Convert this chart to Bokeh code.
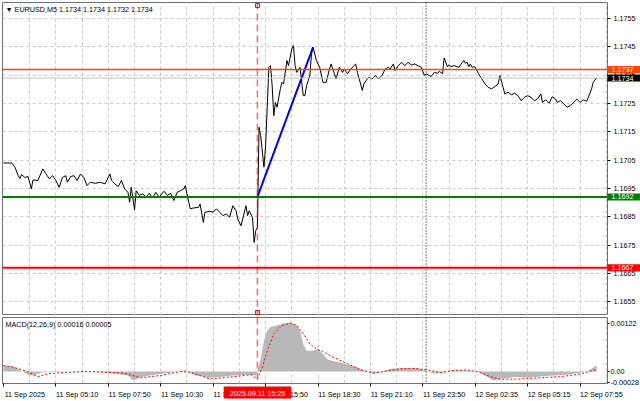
from bokeh.plotting import figure
from bokeh.models import Range1d, FixedTicker, Span, Label, Grid, PrintfTickFormatter
from bokeh.layouts import column
from bokeh.embed import file_html
from bokeh.resources import INLINE

# ---------------- data ----------------
symbol_title = "EURUSD,M5"
ohlc_last = [1.1734, 1.1734, 1.1732, 1.1734]

# (bar index of M5 bar since 11 Sep 02:30, close price)
price_points = [
    (0, 1.17040), (5, 1.17040), (7, 1.17025), (9, 1.16995), (10, 1.16985), (11, 1.16999),
    (13, 1.16989), (15, 1.16992), (17, 1.16948), (18, 1.16980), (21, 1.16978), (24, 1.17019),
    (26, 1.17001), (28, 1.16984), (30, 1.16995), (32, 1.16978), (34, 1.16954), (36, 1.16989),
    (38, 1.16995), (39, 1.16972), (41, 1.16992), (43, 1.16995), (45, 1.16978), (47, 1.17001),
    (49, 1.16989), (51, 1.16960), (53, 1.16972), (56, 1.16968), (59, 1.16972), (62, 1.16966),
    (65, 1.17001), (66, 1.16978), (68, 1.16966), (70, 1.16956), (72, 1.16978), (74, 1.16948),
    (76, 1.16936), (77, 1.16901), (78, 1.16954), (80, 1.16874), (81, 1.16942), (83, 1.16925),
    (85, 1.16931), (87, 1.16919), (89, 1.16933), (91, 1.16916), (93, 1.16936), (95, 1.16919),
    (98, 1.16940), (100, 1.16925), (102, 1.16933), (104, 1.16907), (106, 1.16936), (108, 1.16942),
    (110, 1.16948), (111, 1.16960), (112, 1.16931), (114, 1.16878), (116, 1.16881), (119, 1.16883),
    (120, 1.16895), (122, 1.16830), (123, 1.16866), (126, 1.16869), (128, 1.16866), (130, 1.16878),
    (132, 1.16866), (134, 1.16854), (136, 1.16860), (138, 1.16848), (140, 1.16889), (142, 1.16871),
    (143, 1.16842), (145, 1.16818), (148, 1.16889), (149, 1.16854), (150, 1.16871), (152, 1.16848),
    (153, 1.16759), (154, 1.16801), (155, 1.16812), (156, 1.17166), (157, 1.17137), (159, 1.17025),
    (160, 1.17101), (162, 1.17378), (163, 1.17384), (164, 1.17313), (165, 1.17207), (166, 1.17254),
    (167, 1.17237), (169, 1.17302), (170, 1.17325), (171, 1.17319), (173, 1.17402), (174, 1.17384),
    (176, 1.17443), (177, 1.17455), (178, 1.17384), (179, 1.17360), (181, 1.17378), (183, 1.17278),
    (184, 1.17278), (185, 1.17313), (187, 1.17349), (188, 1.17425), (189, 1.17449), (191, 1.17402),
    (193, 1.17378), (195, 1.17325), (197, 1.17325), (199, 1.17372), (200, 1.17390), (202, 1.17355),
    (203, 1.17337), (205, 1.17378), (207, 1.17360), (208, 1.17372), (210, 1.17355), (212, 1.17372),
    (215, 1.17390), (216, 1.17360), (218, 1.17319), (219, 1.17296), (220, 1.17319), (222, 1.17337),
    (223, 1.17343), (225, 1.17337), (227, 1.17349), (229, 1.17337), (231, 1.17349), (233, 1.17372),
    (235, 1.17378), (236, 1.17372), (238, 1.17390), (239, 1.17366), (241, 1.17384), (243, 1.17396),
    (245, 1.17384), (247, 1.17396), (249, 1.17386), (251, 1.17390), (253, 1.17384), (255, 1.17378),
    (257, 1.17349), (258, 1.17355), (260, 1.17349), (261, 1.17345), (263, 1.17360), (265, 1.17357),
    (266, 1.17364), (268, 1.17355), (269, 1.17411), (271, 1.17380), (272, 1.17387), (273, 1.17380),
    (275, 1.17384), (277, 1.17380), (278, 1.17378), (279, 1.17387), (281, 1.17402), (282, 1.17392),
    (283, 1.17396), (284, 1.17380), (285, 1.17390), (286, 1.17378), (287, 1.17380), (288, 1.17378),
    (290, 1.17355), (292, 1.17337), (294, 1.17319), (296, 1.17307), (298, 1.17302), (300, 1.17310),
    (302, 1.17319), (303, 1.17349), (305, 1.17307), (306, 1.17284), (308, 1.17290), (310, 1.17281),
    (312, 1.17286), (314, 1.17278), (316, 1.17260), (318, 1.17272), (320, 1.17278), (322, 1.17272),
    (324, 1.17260), (326, 1.17266), (328, 1.17284), (329, 1.17254), (331, 1.17263), (333, 1.17251),
    (335, 1.17274), (337, 1.17266), (338, 1.17254), (340, 1.17260), (342, 1.17249), (344, 1.17237),
    (346, 1.17243), (348, 1.17254), (350, 1.17266), (352, 1.17254), (354, 1.17263), (356, 1.17258),
    (357, 1.17272), (359, 1.17302), (360, 1.17325), (362, 1.17340),
]
price_bar = [b for b, _ in price_points]
price_close = [v for _, v in price_points]

# MACD main (histogram) and signal line
macd_points = [
    (0, 0.00015), (6, 0.00013), (10, 0.00004), (15, -0.00008), (18, -0.00010), (24, -0.00002),
    (31, -0.00002), (39, 0.0), (49, 0.00001), (59, -0.00002), (67, -0.00005), (76, -0.00010),
    (79, -0.00023), (84, -0.00014), (92, -0.00008), (100, -0.00004), (108, 0.0), (111, 0.00004),
    (116, -0.00008), (125, -0.00016), (132, -0.00014), (140, -0.00010), (149, -0.00008),
    (154, -0.00010), (155, 0.00003), (157, 0.00032), (159, 0.00079), (161, 0.00104), (163, 0.00113),
    (167, 0.00117), (172, 0.00123), (176, 0.00124), (179, 0.00117), (181, 0.00104), (183, 0.00070),
    (185, 0.00053), (189, 0.00053), (192, 0.00058), (194, 0.00049), (198, 0.00030), (204, 0.00024),
    (210, 0.00018), (216, 0.00011), (220, 0.00003), (226, -0.00006), (232, 0.00001), (236, 0.00007),
    (244, 0.00008), (253, 0.00008), (257, 0.00004), (263, -0.00006), (269, -0.00002), (275, 0.00003),
    (283, 0.00003), (289, 0.0), (295, -0.00013), (299, -0.00023), (303, -0.00019), (312, -0.00014),
    (320, -0.00016), (328, -0.00013), (336, -0.00010), (344, -0.00008), (352, -0.00004), (356, 0.0),
    (359, 0.00007), (362, 0.00016),
]
macd_bar = [b for b, _ in macd_points]
macd_main = [v for _, v in macd_points]

signal_points = [
    (0, 0.00015), (6, 0.00011), (14, 0.00001), (21, -0.00013), (27, -0.00006), (39, -0.00002),
    (51, 0.0), (63, -0.00002), (73, -0.00004), (84, -0.00016), (96, -0.00010), (108, 0.0),
    (114, -0.00002), (126, -0.00019), (141, -0.00013), (151, -0.00008), (155, -0.00019),
    (158, 0.00011), (161, 0.00053), (165, 0.00096), (170, 0.00117), (175, 0.00123), (179, 0.00117),
    (183, 0.00096), (187, 0.00070), (192, 0.00055), (194, 0.00053), (202, 0.00035), (210, 0.00020),
    (218, 0.00004), (226, -0.00004), (234, 0.00001), (242, 0.00007), (250, 0.00008), (259, 0.00004),
    (267, -0.00003), (275, 0.00003), (283, 0.00004), (291, -0.00002), (297, -0.00013),
    (303, -0.00020), (316, -0.00019), (328, -0.00016), (340, -0.00013), (350, -0.00008),
    (356, -0.00002), (362, 0.00005),
]
signal_bar = [b for b, _ in signal_points]
macd_signal = [v for _, v in signal_points]
macd_title = "MACD(12,26,9)"
macd_last = [0.00016, 0.00005]

# time axis
tick_bars = [0, 32, 64, 96, 128, 160, 192, 224, 256, 288, 320, 352]
tick_labels = ["11 Sep 2025", "11 Sep 05:10", "11 Sep 07:50", "11 Sep 10:30", "11 Sep 13:10",
               "11 Sep 15:50", "11 Sep 18:30", "11 Sep 21:10", "11 Sep 23:50", "12 Sep 02:35",
               "12 Sep 05:15", "12 Sep 07:55"]
grid_bars = list(range(16, 369, 16))
day_sep_bar = 258
event_bar = 155
event_label = "2025.09.11 15:25"

# price axis
price_ticks = [1.1655, 1.1665, 1.1675, 1.1685, 1.1695, 1.1705, 1.1715, 1.1725, 1.1735, 1.1745, 1.1755]
macd_ticks = [-0.00028, 0.0, 0.00122]
macd_tick_labels = ["-0.00028", "0.00", "0.00122"]

# horizontal levels
level_values = [1.1737, 1.1734, 1.1692, 1.1667]
level_colors = ["#FF4500", "#C0C0C0", "#008000", "#FF0000"]
level_box_colors = ["#FF4500", "#000000", "#008000", "#FF0000"]
level_widths = [1.5, 1, 2, 2]

# trend line drawn on the chart
trend_bar = [155, 189]
trend_price = [1.1692, 1.17449]

# ---------------- layout / style ----------------
FONT = "Liberation Sans"
FS = "7.2px"
FRAME_W = 605
MAIN_H = 313
MACD_H = 66
LEFT = 2
RIGHT = 33
GRID_COLOR = "#C8C8C8"
GRID_DASH = "3 3"
LABEL_SHIFT = 13
DATE_BOX_PX = 9    # distance of the date box centre below the MACD frame
SQUARE_PX = 3      # inset of the event-line end markers

X_START, X_END = -0.6, 368.7
Y_MAIN = (1.16501, 1.17607)
Y_MACD = (-0.000305, 0.001373)

x_range = Range1d(X_START, X_END)

p = figure(frame_width=FRAME_W, frame_height=MAIN_H, x_range=x_range,
           y_range=Range1d(*Y_MAIN), x_axis_location=None, y_axis_location="right",
           toolbar_location=None, output_backend="svg",
           min_border_left=LEFT, min_border_right=RIGHT, min_border_top=2, min_border_bottom=0)
p.background_fill_color = "white"
p.border_fill_color = "white"
p.outline_line_color = "#707070"
p.outline_line_width = 1

p.xgrid.visible = False
p.add_layout(Grid(dimension=0, ticker=FixedTicker(ticks=grid_bars),
                  grid_line_color=GRID_COLOR, grid_line_dash=GRID_DASH))
p.yaxis.ticker = FixedTicker(ticks=price_ticks)
p.yaxis.formatter = PrintfTickFormatter(format="%.4f")
p.ygrid.grid_line_color = GRID_COLOR
p.ygrid.grid_line_dash = GRID_DASH
for ax in p.yaxis:
    ax.axis_line_color = None
    ax.major_tick_in = 0
    ax.major_tick_out = 3
    ax.minor_tick_in = 0
    ax.minor_tick_out = 0
    ax.major_tick_line_color = "black"
    ax.major_label_standoff = 3
    ax.major_label_text_font = FONT
    ax.major_label_text_font_size = FS
    ax.major_label_text_color = "black"

# vertical markers
p.add_layout(Span(location=day_sep_bar, dimension="height", line_color="black",
                  line_dash="1 2", line_width=1, level="underlay"))
p.add_layout(Span(location=event_bar, dimension="height", line_color="#FF0000",
                  line_alpha=0.55, line_dash="7 4", line_width=1.6))
px_main = (Y_MAIN[1] - Y_MAIN[0]) / MAIN_H
p.scatter([event_bar, event_bar],
          [Y_MAIN[1] - SQUARE_PX * px_main, Y_MAIN[0] + SQUARE_PX * px_main],
          marker="square", size=4, fill_color="white", line_color="#FF0000", line_width=1)

# horizontal levels
for v, c, w in zip(level_values, level_colors, level_widths):
    p.add_layout(Span(location=v, dimension="width", line_color=c, line_width=w))

p.line(price_bar, price_close, line_color="black", line_width=1)
p.line(trend_bar, trend_price, line_color="#0000FF", line_width=2)

p.add_layout(Label(x=3, y=MAIN_H - 7, x_units="screen", y_units="screen",
                   text="\u25bc " + symbol_title + "  " + " ".join(f"{v:.4f}" for v in ohlc_last),
                   text_font=FONT, text_font_size=FS, text_color="black", text_baseline="middle"))

# price boxes on the right scale (side panel so they are not clipped to the frame);
# anchored at the right end of the x range = right edge of the frame
for v, bc in zip(level_values, level_box_colors):
    p.add_layout(Label(x=X_END, y=v, x_units="data", y_units="data", text=f"{v:.4f}",
                       text_font=FONT, text_font_size=FS, text_color="white",
                       text_baseline="middle", text_align="left",
                       background_fill_color=bc,
                       padding=dict(left=4, right=8, top=1, bottom=1)), "right")

# ---------------- MACD pane ----------------
p2 = figure(frame_width=FRAME_W, frame_height=MACD_H, x_range=x_range,
            y_range=Range1d(*Y_MACD), x_axis_location="below", y_axis_location="right",
            toolbar_location=None, output_backend="svg",
            min_border_left=LEFT, min_border_right=RIGHT, min_border_top=2, min_border_bottom=18)
p2.background_fill_color = "white"
p2.border_fill_color = "white"
p2.outline_line_color = "#707070"
p2.ygrid.visible = False
p2.xgrid.ticker = FixedTicker(ticks=grid_bars)
p2.xgrid.grid_line_color = GRID_COLOR
p2.xgrid.grid_line_dash = GRID_DASH

p2.add_layout(Span(location=day_sep_bar, dimension="height", line_color="black",
                   line_dash="1 2", line_width=1))
p2.add_layout(Span(location=event_bar, dimension="height", line_color="#FF0000",
                   line_alpha=0.55, line_dash="7 4", line_width=1.6))

p2.varea(x=macd_bar, y1=0, y2=macd_main, fill_color="#B8B8B8")
p2.line(signal_bar, macd_signal, line_color="#FF0000", line_dash="2 2", line_width=1)

p2.yaxis.ticker = FixedTicker(ticks=macd_ticks)
p2.yaxis.major_label_overrides = dict(zip(macd_ticks, macd_tick_labels))
shifted = [b + LABEL_SHIFT for b in tick_bars]
p2.xaxis.ticker = FixedTicker(ticks=shifted, minor_ticks=tick_bars)
p2.xaxis.major_label_overrides = dict(zip(shifted, tick_labels))
for ax in list(p2.yaxis) + list(p2.xaxis):
    ax.axis_line_color = None
    ax.major_tick_in = 0
    ax.minor_tick_in = 0
    ax.minor_tick_out = 0
    ax.major_tick_line_color = "black"
    ax.major_label_text_font = FONT
    ax.major_label_text_font_size = FS
    ax.major_label_text_color = "black"
for ax in p2.yaxis:
    ax.major_tick_out = 2
    ax.major_label_standoff = 1
for ax in p2.xaxis:
    ax.major_tick_out = 0
    ax.minor_tick_out = 3
    ax.minor_tick_line_color = "black"
    ax.major_label_standoff = 3

p2.add_layout(Label(x=3, y=MACD_H - 7, x_units="screen", y_units="screen",
                    text=f"{macd_title} {macd_last[0]:.5f} {macd_last[1]:.5f}",
                    text_font=FONT, text_font_size=FS, text_color="black", text_baseline="middle"))
date_y = Y_MACD[0] - DATE_BOX_PX * (Y_MACD[1] - Y_MACD[0]) / MACD_H
p2.add_layout(Label(x=event_bar, y=date_y, x_units="data", y_units="data", text=event_label,
                    text_font=FONT, text_font_size=FS, text_color="white",
                    text_baseline="middle", text_align="center",
                    background_fill_color="#FF0000",
                    padding=dict(left=6, right=6, top=2, bottom=1)), "below")

layout = column(p, p2, spacing=0)
open("out.html", "w").write(file_html(layout, INLINE))
